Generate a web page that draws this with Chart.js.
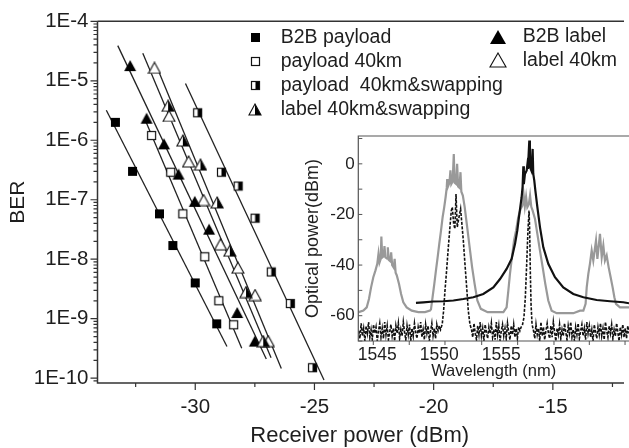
<!DOCTYPE html>
<html><head><meta charset="utf-8">
<script src="https://cdn.jsdelivr.net/npm/chart.js@4.4.1/dist/chart.umd.min.js"></script>
<style>
html,body{margin:0;padding:0;background:#fff;}
#wrap{position:relative;width:629px;height:448px;overflow:hidden;background:#fff;}
#main{position:absolute;left:0;top:0;}
#inset{position:absolute;left:290px;top:120px;}
</style></head><body>
<div id="wrap"><canvas id="main" width="629" height="448"></canvas><canvas id="inset" width="339" height="260"></canvas></div>
<script>
const FONT = "'Liberation Sans', Arial, sans-serif";

// ---------------- main chart data ----------------
const xTickValues = [-30, -25, -20, -15];
const xTickLabels = ['-30', '-25', '-20', '-15'];
const xMinorTickValues = [-32.5, -27.5, -22.5, -17.5, -12.5];
const yTickValues = [1e-10, 1e-9, 1e-8, 1e-7, 1e-6, 1e-5, 1e-4];
const yTickLabels = ['1E-10', '1E-9', '1E-8', '1E-7', '1E-6', '1E-5', '1E-4'];
const xTitle = 'Receiver power (dBm)';
const yTitle = 'BER';

const b2bPayloadX   = [-33.35, -32.63, -31.50, -30.94, -30.00, -29.10];
const b2bPayloadBER = [2.0e-6, 3.0e-7, 5.8e-8, 1.7e-8, 4.0e-9, 8.2e-10];
const payload40X    = [-31.83, -31.03, -30.52, -29.60, -29.01, -28.39];
const payload40BER  = [1.2e-6, 2.9e-7, 5.8e-8, 1.1e-8, 2.0e-9, 7.9e-10];
const payloadSwapX  = [-29.90, -28.90, -28.20, -27.49, -26.81, -26.01, -25.08];
const payloadSwapBER= [2.9e-6, 2.9e-7, 1.7e-7, 4.9e-8, 6.1e-9, 1.8e-9, 1.5e-10];
const labelSwapX    = [-31.14, -30.52, -29.78, -29.08, -28.55, -27.87, -27.15];
const labelSwapBER  = [3.8e-6, 9.9e-7, 3.9e-7, 9.0e-8, 1.39e-8, 2.8e-9, 4.2e-10];
const b2bLabelX     = [-32.73, -32.04, -31.31, -30.70, -30.02, -29.42, -28.24, -27.50];
const b2bLabelBER   = [1.8e-5, 2.35e-6, 8.7e-7, 2.7e-7, 9.4e-8, 3.2e-8, 1.27e-9, 4.2e-10];
const label40X      = [-31.71, -31.10, -30.28, -29.65, -28.94, -28.21, -27.49, -26.94];
const label40BER    = [1.65e-5, 2.56e-6, 4.4e-7, 9.9e-8, 1.78e-8, 7.2e-9, 2.5e-9, 4.2e-10];

// fitted lines (start, end)
const fitB2bPayloadX = [-33.73, -28.67], fitB2bPayloadBER = [3.2e-6, 3.4e-10];
const fitPayload40X = [-32.09, -28.05], fitPayload40BER = [2.15e-6, 3.2e-10];
const fitPayloadSwapX = [-30.41, -24.60], fitPayloadSwapBER = [9.0e-6, 9.3e-11];
const fitLabelSwapX = [-31.51, -26.39], fitLabelSwapBER = [1.36e-5, 1.45e-10];
const fitB2bLabelX = [-33.25, -27.02], fitB2bLabelBER = [3.9e-5, 2.1e-10];
const fitLabel40X = [-32.20, -26.82], fitLabel40BER = [2.9e-5, 2.2e-10];

const seriesNames = ['B2B payload', 'payload 40km', 'payload  40km&swapping', 'label 40km&swapping', 'B2B label', 'label 40km'];

// ---------------- inset data ----------------
const insetXTicks = [1545, 1550, 1555, 1560];
const insetYTicks = [-60, -40, -20, 0];
const insetXTitle = 'Wavelength (nm)';
const insetYTitle = 'Optical power(dBm)';
const insetXMarks = [1544.68, 1547.58, 1550.46, 1553.42, 1556.32, 1559.25, 1562.10, 1564.98];

const grayWl = [1543.50,1543.88,1544.15,1544.33,1544.50,1544.68,1544.85,1545.00,1545.10,1545.18,1545.28,1545.33,1545.40,1545.52,1545.58,1545.66,1545.80,1545.85,1545.93,1546.05,1546.12,1546.20,1546.33,1546.40,1546.48,1546.57,1546.75,1546.92,1547.10,1547.37,1547.78,1548.31,1548.85,1549.25,
 1549.33,1549.46,1549.60,1549.73,1549.87,1550.00,1550.14,1550.27,1550.40,1550.51,1550.60,1550.64,1550.70,1550.82,1550.90,1550.97,1551.08,1551.17,1551.24,1551.36,1551.44,1551.52,1551.63,1551.71,1551.78,1551.90,1552.05,1552.25,1552.45,1552.65,1552.85,1553.07,1553.35,1553.90,1554.60,1555.17,
 1555.43,1555.57,1555.70,1555.86,1556.03,1556.19,1556.37,1556.56,1556.70,1556.80,1556.90,1557.00,1557.10,1557.22,1557.32,1557.42,1557.53,1557.72,1557.91,1558.12,1558.34,1558.55,1558.79,1559.06,1559.47,1560.30,1560.81,1561.35,
 1561.62,1561.80,1561.89,1562.02,1562.15,1562.29,1562.42,1562.64,1562.75,1562.96,1563.10,1563.23,1563.36,1563.50,1563.66,1563.82,1563.98,1564.12,1564.25,1564.57,1565.30];
const grayDb = [-58.6,-58.0,-56.7,-53.4,-48.8,-44.8,-42.2,-39.5,-35.5,-39.0,-37.5,-28.7,-37.0,-36.5,-32.5,-37.0,-37.5,-33.0,-38.0,-38.5,-35.0,-40.0,-41.0,-37.5,-43.0,-44.0,-47.4,-51.4,-54.7,-56.7,-58.0,-58.6,-58.6,-58.0,
 -57.5,-52.7,-47.4,-42.2,-36.9,-31.6,-26.4,-21.1,-17.1,-13.2,-9.5,-6.0,-9.0,-7.5,-2.6,-8.0,-7.0,3.9,-7.5,-8.0,0.0,-9.0,-9.5,-3.3,-11.0,-12.5,-17.1,-25.0,-33.0,-40.9,-47.4,-54.0,-57.3,-58.6,-58.6,-58.6,
 -56.7,-50.1,-43.5,-36.9,-30.3,-26.4,-21.1,-17.8,-16.5,-12.0,-16.8,-13.0,-17.1,-16.0,-12.5,-17.0,-18.5,-21.8,-27.7,-34.3,-40.9,-47.4,-54.0,-58.0,-59.0,-59.0,-59.0,-58.0,
 -58.0,-55.3,-48.8,-43.5,-39.5,-34.3,-38.2,-30.3,-37.6,-27.7,-36.9,-32.3,-38.2,-36.2,-40.9,-44.8,-48.8,-52.7,-55.3,-56.7,-56.7];

const blackWl = [1548.12,1548.72,1549.52,1550.33,1551.14,1551.94,1552.75,1553.55,1554.36,1554.90,1555.43,1555.84,1556.11,1556.29,1556.46,1556.64,1556.72,1556.78,1556.82,1556.91,1557.05,1557.10,1557.15,1557.26,1557.31,1557.42,1557.53,1557.58,1557.66,1557.75,1557.91,1558.12,1558.39,1558.79,1559.33,1560.00,1560.81,1561.62,1562.69,1563.77,1564.84,1565.30];
const blackDb = [-54.9,-54.7,-54.4,-54.3,-54.0,-53.4,-52.7,-51.4,-48.8,-45.5,-41.5,-37.5,-31.6,-26.4,-19.8,-13.2,-9.0,-1.0,-8.0,-4.0,-2.6,-0.5,-2.0,9.2,-1.3,-2.6,5.9,-4.0,-6.5,-10.6,-17.1,-25.0,-33.0,-39.5,-44.8,-48.8,-51.4,-52.7,-53.8,-54.3,-54.7,-55.1];

// dashed spectrum as [wavelength, dBm] pairs
const dashPairs = [
 [1543.5,-66],[1543.6,-69],[1543.7,-63],[1543.8,-68],[1543.9,-65],[1544.0,-70],[1544.1,-64],[1544.2,-67],[1544.3,-62.5],[1544.4,-68.5],
 [1544.5,-65.5],[1544.6,-69.5],[1544.7,-63.5],[1544.8,-67],[1544.9,-64.5],[1545.0,-70],[1545.1,-66],[1545.2,-63],[1545.3,-68.5],[1545.4,-65],
 [1545.5,-69],[1545.6,-62.5],[1545.7,-67.5],[1545.8,-64],[1545.9,-69.5],[1546.0,-66.5],[1546.1,-63.5],[1546.2,-68],[1546.3,-65],[1546.4,-70],
 [1546.5,-64],[1546.6,-67],[1546.7,-63],[1546.8,-69],[1546.9,-65.5],[1547.0,-68],[1547.1,-62.5],[1547.2,-66.5],[1547.3,-69.5],[1547.4,-64],
 [1547.5,-67.5],[1547.6,-63.5],[1547.7,-70],[1547.8,-65],[1547.9,-68],[1548.0,-63],[1548.1,-66.5],[1548.2,-69],[1548.3,-64.5],[1548.4,-67],
 [1548.5,-62.5],[1548.6,-68.5],[1548.7,-65.5],[1548.8,-69.5],[1548.9,-63.5],[1549.0,-67],[1549.1,-64],[1549.2,-70],[1549.3,-66],[1549.4,-63],
 [1549.5,-68],[1549.6,-65],[1549.7,-69],[1549.8,-63.5],[1549.9,-66],[1550.0,-64],[1550.1,-65.5],
 [1550.24,-63.3],[1550.35,-58.0],[1550.46,-50.1],[1550.59,-42.2],[1550.73,-33.0],[1550.86,-25.0],[1550.97,-18.5],[1551.05,-17.1],[1551.16,-23.7],
 [1551.26,-25.7],[1551.35,-11.9],[1551.45,-25.0],[1551.59,-21.1],[1551.72,-17.8],[1551.80,-22.4],[1551.94,-30.3],[1552.07,-39.5],[1552.21,-48.8],
 [1552.34,-58.0],[1552.47,-63.3],
 [1552.6,-65.5],[1552.7,-68.5],[1552.8,-63],[1552.9,-67],[1553.0,-69.5],[1553.1,-64],[1553.2,-67.5],[1553.3,-62.5],[1553.4,-68],[1553.5,-65],
 [1553.6,-70],[1553.7,-63.5],[1553.8,-66.5],[1553.9,-69],[1554.0,-64.5],[1554.1,-67],[1554.2,-63],[1554.3,-68.5],[1554.4,-65.5],[1554.5,-69.5],
 [1554.6,-62.5],[1554.7,-67.5],[1554.8,-64],[1554.9,-70],[1555.0,-66],[1555.1,-63.5],[1555.2,-68],[1555.3,-65],[1555.4,-69],[1555.5,-63],
 [1555.6,-66.5],[1555.7,-69.5],[1555.8,-64],[1555.9,-67.5],[1556.0,-63.5],[1556.1,-68.5],[1556.2,-65],[1556.3,-69],[1556.4,-64.5],[1556.5,-66],
 [1556.60,-64.5],[1556.70,-63.9],[1556.83,-60.6],[1556.94,-52.7],[1557.05,-39.5],[1557.15,-26.4],[1557.24,-18.5],[1557.29,-26.4],[1557.34,-42.2],
 [1557.40,-55.3],[1557.48,-63.3],
 [1557.6,-66],[1557.7,-69],[1557.8,-63.5],[1557.9,-67.5],[1558.0,-65],[1558.1,-70],[1558.2,-62.5],[1558.3,-68],[1558.4,-64.5],[1558.5,-69.5],
 [1558.6,-66],[1558.7,-63],[1558.8,-67],[1558.9,-69],[1559.0,-64],[1559.1,-68.5],[1559.2,-62.5],[1559.3,-66.5],[1559.4,-70],[1559.5,-65],
 [1559.6,-67.5],[1559.7,-63.5],[1559.8,-69],[1559.9,-65.5],[1560.0,-68],[1560.1,-63],[1560.2,-66.5],[1560.3,-69.5],[1560.4,-64],[1560.5,-67],
 [1560.6,-62.5],[1560.7,-68.5],[1560.8,-65.5],[1560.9,-70],[1561.0,-64.5],[1561.1,-67.5],[1561.2,-63],[1561.3,-69],[1561.4,-66],[1561.5,-63.5],
 [1561.6,-68],[1561.7,-65],[1561.8,-69.5],[1561.9,-62.5],[1562.0,-67],[1562.1,-64],[1562.2,-68.5],[1562.3,-65.5],[1562.4,-70],[1562.5,-63.5],
 [1562.6,-66.5],[1562.7,-69],[1562.8,-64.5],[1562.9,-67.5],[1563.0,-63],[1563.1,-68],[1563.2,-65],[1563.3,-69.5],[1563.4,-62.5],[1563.5,-66],
 [1563.6,-68.5],[1563.7,-64],[1563.8,-67],[1563.9,-63.5],[1564.0,-69],[1564.1,-65.5],[1564.2,-68],[1564.3,-63],[1564.4,-66.5],[1564.5,-70],
 [1564.6,-64.5],[1564.7,-67.5],[1564.8,-63.5],[1564.9,-68.5],[1565.0,-65],[1565.1,-69],[1565.2,-64],[1565.3,-67]];

// ---------------- markers ----------------
function makeMarker(kind, k) {
  const c = document.createElement('canvas');
  if (kind.startsWith('sq')) {
    const s = Math.round(9 * k); c.width = s + 2; c.height = s + 2;
    const g = c.getContext('2d');
    if (kind === 'sqFill') { g.fillStyle = '#000'; g.fillRect(1, 1, s, s); }
    else {
      g.fillStyle = '#fff'; g.fillRect(1, 1, s, s);
      if (kind === 'sqHalf') { g.fillStyle = '#000'; g.fillRect(1 + s / 2, 1, s / 2, s); }
      g.strokeStyle = '#111'; g.lineWidth = 1.2; g.strokeRect(1.5, 1.5, s - 1, s - 1);
    }
  } else {
    const w = Math.round(12 * k), h = Math.round(11 * k); c.width = w + 2; c.height = h + 2;
    const g = c.getContext('2d');
    const path = () => { g.beginPath(); g.moveTo(1 + w / 2, 1); g.lineTo(1 + w, 1 + h); g.lineTo(1, 1 + h); g.closePath(); };
    path();
    g.fillStyle = kind === 'triFill' ? '#000' : '#fff'; g.fill();
    if (kind === 'triHalf') {
      g.save(); path(); g.clip(); g.fillStyle = '#000'; g.fillRect(1 + w / 2, 0, w, h + 2); g.restore();
    }
    if (kind !== 'triFill') { path(); g.strokeStyle = '#111'; g.lineWidth = 1.1; g.stroke(); }
  }
  return c;
}
const markerKinds = ['sqFill', 'sqOpen', 'sqHalf', 'triHalf', 'triFill', 'triOpen'];
const markerImg = {}, legendImg = {};
markerKinds.forEach(k => { markerImg[k] = makeMarker(k, 1); });
markerKinds.forEach((k, i) => { legendImg[k] = makeMarker(k, i >= 4 ? 1.3 : 1); });

function pts(xs, ys) { return xs.map((x, i) => ({x: x, y: ys[i]})); }
const pointSets = [
  [b2bPayloadX, b2bPayloadBER], [payload40X, payload40BER], [payloadSwapX, payloadSwapBER],
  [labelSwapX, labelSwapBER], [b2bLabelX, b2bLabelBER], [label40X, label40BER]];
const fitSets = [
  [fitB2bPayloadX, fitB2bPayloadBER], [fitPayload40X, fitPayload40BER], [fitPayloadSwapX, fitPayloadSwapBER],
  [fitLabelSwapX, fitLabelSwapBER], [fitB2bLabelX, fitB2bLabelBER], [fitLabel40X, fitLabel40BER]];

const mainDatasets = [];
pointSets.forEach((s, i) => mainDatasets.push({
  label: seriesNames[i], data: pts(s[0], s[1]), showLine: false,
  pointStyle: markerImg[markerKinds[i]], pointRadius: 6, order: 0
}));
fitSets.forEach((s, i) => mainDatasets.push({
  label: seriesNames[i] + ' fit', data: pts(s[0], s[1]), showLine: true,
  pointRadius: 0, borderColor: '#222', borderWidth: 1.3, order: 1
}));

const legendPos = [[255, 37.3, 280.7], [255, 61.3, 280.7], [255, 85.7, 280.7], [255, 109.5, 280.7], [498.3, 36.7, 522.7], [498.3, 60.3, 522.7]];

const mainFrame = {
  id: 'mainFrame',
  afterDraw(chart) {
    const {ctx, chartArea: a, scales: {x, y}} = chart;
    ctx.save();
    ctx.strokeStyle = '#333'; ctx.lineWidth = 1.5;
    ctx.beginPath();
    ctx.moveTo(a.left, a.top); ctx.lineTo(a.right + 2, a.top);
    ctx.moveTo(a.left, a.top); ctx.lineTo(a.left, a.bottom); ctx.lineTo(a.right + 2, a.bottom);
    ctx.stroke();
    ctx.lineWidth = 1.2;
    ctx.beginPath();
    xTickValues.forEach(v => { const p = x.getPixelForValue(v); ctx.moveTo(p, a.bottom); ctx.lineTo(p, a.bottom + 7); });
    xMinorTickValues.forEach(v => { const p = x.getPixelForValue(v); ctx.moveTo(p, a.bottom); ctx.lineTo(p, a.bottom + 4); });
    yTickValues.forEach(v => { const p = y.getPixelForValue(v); ctx.moveTo(a.left, p); ctx.lineTo(a.left - 7, p); });
    [1e-11].concat(yTickValues).forEach(d => {
      for (let m = 2; m <= 9; m++) {
        const v = d * m; if (v < y.min || v > y.max) continue;
        const p = y.getPixelForValue(v); ctx.moveTo(a.left, p); ctx.lineTo(a.left - 4, p);
      }
    });
    ctx.stroke();
    // legend
    ctx.fillStyle = '#1e1e1e';
    ctx.font = '19.5px ' + FONT;
    ctx.textBaseline = 'middle'; ctx.textAlign = 'left';
    seriesNames.forEach((name, i) => {
      const [mx, my, tx] = legendPos[i];
      const img = legendImg[markerKinds[i]];
      ctx.drawImage(img, Math.round(mx - img.width / 2), Math.round(my - img.height / 2));
      ctx.fillText(name, tx, my);
    });
    ctx.restore();
  }
};

new Chart(document.getElementById('main'), {
  type: 'scatter',
  data: {datasets: mainDatasets},
  options: {
    responsive: false, animation: false, devicePixelRatio: 1,
    layout: {padding: {left: 0, top: 17.5, right: 0, bottom: 0}},
    plugins: {legend: {display: false}, tooltip: {enabled: false}},
    scales: {
      x: {
        type: 'linear', position: 'bottom', min: -34.1, max: -12.1,
        afterBuildTicks: s => { s.ticks = xTickValues.map(v => ({value: v})); },
        afterFit: s => { s.height = 65; },
        grid: {display: false, drawTicks: false}, border: {display: false},
        ticks: {color: '#1e1e1e', font: {family: FONT, size: 20.5}, padding: 12.5, maxRotation: 0, autoSkip: false,
                callback: (v, i) => xTickLabels[i]},
        title: {display: true, text: xTitle, color: '#1e1e1e', font: {family: FONT, size: 22, lineHeight: 1}, padding: {top: 0, bottom: 1}}
      },
      y: {
        type: 'logarithmic', position: 'left', min: 8.3e-11, max: 1e-4, bounds: 'data',
        afterBuildTicks: s => { s.ticks = yTickValues.map(v => ({value: v})); },
        afterFit: s => { s.width = 97.5; },
        grid: {display: false, drawTicks: false}, border: {display: false},
        ticks: {color: '#1e1e1e', font: {family: FONT, size: 20.5}, padding: 9, autoSkip: false,
                callback: (v, i) => yTickLabels[i]},
        title: {display: true, text: yTitle, color: '#1e1e1e', font: {family: FONT, size: 21, lineHeight: 1}, padding: {top: 7.8, bottom: 0}}
      }
    }
  },
  plugins: [mainFrame]
});

// ---------------- inset ----------------
const insetFrame = {
  id: 'insetFrame',
  afterDraw(chart) {
    const {ctx, chartArea: a, scales: {x, y}} = chart;
    ctx.save();
    ctx.strokeStyle = '#555'; ctx.lineWidth = 1.2;
    ctx.beginPath();
    ctx.moveTo(a.right + 2, a.top); ctx.lineTo(a.left, a.top); ctx.lineTo(a.left, a.bottom); ctx.lineTo(a.right + 2, a.bottom);
    ctx.stroke();
    ctx.lineWidth = 1;
    ctx.beginPath();
    [-70, -60, -50, -40, -30, -20, -10, 0, 10].forEach(v => { const p = y.getPixelForValue(v); ctx.moveTo(a.left, p); ctx.lineTo(a.left + 4, p); });
    insetXMarks.forEach(v => { const p = x.getPixelForValue(v); ctx.moveTo(p, a.bottom); ctx.lineTo(p, a.bottom + 4); });
    ctx.stroke();
    ctx.restore();
  }
};

new Chart(document.getElementById('inset'), {
  type: 'scatter',
  data: {datasets: [
    {label: 'dashed', data: dashPairs.map(p => ({x: p[0], y: p[1]})), showLine: true, pointRadius: 0, borderColor: '#111', borderWidth: 1.6, borderDash: [3, 1.5], order: 0},
    {label: 'black', data: pts(blackWl, blackDb), showLine: true, pointRadius: 0, borderColor: '#111', borderWidth: 2.2, order: 1},
    {label: 'gray', data: pts(grayWl, grayDb), showLine: true, pointRadius: 0, borderColor: '#999', borderWidth: 2.2, order: 2}
  ]},
  options: {
    responsive: false, animation: false, devicePixelRatio: 1,
    layout: {padding: {left: 0, top: 16, right: 0, bottom: 0}},
    plugins: {legend: {display: false}, tooltip: {enabled: false}},
    scales: {
      x: {
        type: 'linear', position: 'bottom', min: 1543.47, max: 1565.3,
        afterBuildTicks: s => { s.ticks = insetXTicks.map(v => ({value: v})); },
        afterFit: s => { s.height = 39; },
        grid: {display: false, drawTicks: false}, border: {display: false},
        ticks: {color: '#1e1e1e', font: {family: FONT, size: 17.5}, padding: 3.5, maxRotation: 0, autoSkip: false,
                callback: (v, i) => String(insetXTicks[i])},
        title: {display: true, text: insetXTitle, color: '#1e1e1e', font: {family: FONT, size: 16.5, lineHeight: 1}, padding: {top: 0, bottom: 0.5}}
      },
      y: {
        type: 'linear', position: 'left', min: -70, max: 11,
        afterBuildTicks: s => { s.ticks = insetYTicks.map(v => ({value: v})); },
        afterFit: s => { s.width = 68.3; },
        grid: {display: false, drawTicks: false}, border: {display: false},
        ticks: {color: '#1e1e1e', font: {family: FONT, size: 17}, padding: 3.5, autoSkip: false,
                callback: (v, i) => String(insetYTicks[i])},
        title: {display: true, text: insetYTitle, color: '#1e1e1e', font: {family: FONT, size: 18, lineHeight: 1}, padding: {top: 13.7, bottom: 0}}
      }
    }
  },
  plugins: [insetFrame]
});
</script>
</body></html>
